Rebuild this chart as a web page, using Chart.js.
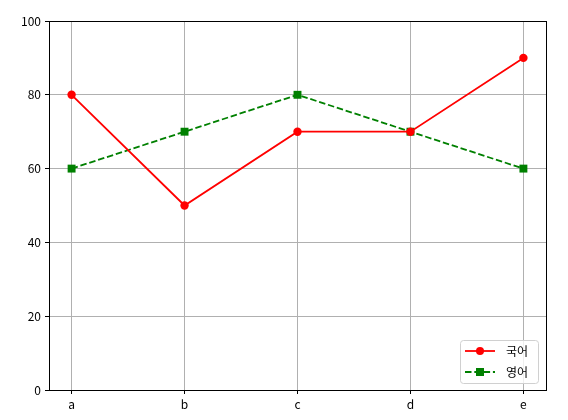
<!DOCTYPE html>
<html>
<head>
<meta charset="utf-8">
<script src="https://cdn.jsdelivr.net/npm/chart.js@4"></script>
<style>
  html, body { margin: 0; padding: 0; background: #fff; }
  #wrap { width: 568px; height: 420px; }
</style>
</head>
<body>
<div id="wrap"><canvas id="chart" width="568" height="420"></canvas></div>
<script>
const categories = ['a', 'b', 'c', 'd', 'e'];
const koreanScores = [80, 50, 70, 70, 90];
const englishScores = [60, 70, 80, 70, 60];
const seriesNames = ['국어', '영어'];
const yTicks = [0, 20, 40, 60, 80, 100];

const FONT = '"Noto Sans CJK KR", "Noto Sans", sans-serif';

// full black frame around plot area, like matplotlib spines
const framePlugin = {
    id: 'frame',
    afterDraw(chart) {
        const { ctx, chartArea: a } = chart;
        ctx.save();
        ctx.strokeStyle = '#000';
        ctx.lineWidth = 1;
        ctx.strokeRect(Math.round(a.left) + 0.5, Math.round(a.top) + 0.5,
            Math.round(a.right - a.left), Math.round(a.bottom - a.top));
        ctx.restore();
    }
};

// legend box in the lower right corner with line + marker samples
const legendPlugin = {
    id: 'mplLegend',
    afterDraw(chart) {
        const { ctx, chartArea: a } = chart;
        const w = 78, h = 43;
        const x = a.right - w - 8, y = a.bottom - h - 7;
        ctx.save();
        ctx.fillStyle = 'rgba(255,255,255,0.8)';
        ctx.strokeStyle = '#d0d0d0';
        ctx.lineWidth = 1;
        ctx.beginPath();
        ctx.roundRect(x + 0.5, y + 0.5, w, h, 3);
        ctx.fill();
        ctx.stroke();
        chart.data.datasets.forEach((ds, i) => {
            const cy = y + 11 + i * 21;
            ctx.strokeStyle = ds.borderColor;
            ctx.lineWidth = 1.8;
            ctx.setLineDash(ds.borderDash || []);
            ctx.beginPath();
            ctx.moveTo(x + 5, cy);
            ctx.lineTo(x + 35, cy);
            ctx.stroke();
            ctx.setLineDash([]);
            ctx.fillStyle = ds.pointBackgroundColor;
            if (ds.pointStyle === 'rect') {
                ctx.fillRect(x + 20 - 4, cy - 4, 8, 8);
            } else {
                ctx.beginPath();
                ctx.arc(x + 20, cy, 4, 0, Math.PI * 2);
                ctx.fill();
            }
            ctx.fillStyle = '#000';
            ctx.font = '12px ' + FONT;
            ctx.textBaseline = 'middle';
            ctx.fillText(ds.label, x + 46, cy);
        });
        ctx.restore();
    }
};

const toPoints = vals => vals.map((v, i) => ({ x: i, y: v }));

new Chart(document.getElementById('chart'), {
    type: 'line',
    data: {
        datasets: [
            {
                label: seriesNames[0],
                data: toPoints(koreanScores),
                borderColor: '#ff0000',
                pointBackgroundColor: '#ff0000',
                pointBorderColor: '#ff0000',
                borderWidth: 1.8,
                pointBorderWidth: 0,
                pointStyle: 'circle',
                pointRadius: 4.2,
                tension: 0
            },
            {
                label: seriesNames[1],
                data: toPoints(englishScores),
                borderColor: '#008000',
                pointBackgroundColor: '#008000',
                pointBorderColor: '#008000',
                borderWidth: 1.8,
                pointBorderWidth: 0,
                borderDash: [6.5, 2.8],
                pointStyle: 'rect',
                pointRadius: 5.6,
                tension: 0
            }
        ]
    },
    options: {
        responsive: false,
        animation: false,
        devicePixelRatio: 1,
        layout: { padding: { top: 21, right: 22, left: 0, bottom: 0 } },
        plugins: { legend: { display: false }, tooltip: { enabled: false } },
        scales: {
            x: {
                type: 'linear',
                min: -0.2,
                max: 4.2,
                afterBuildTicks(axis) { axis.ticks = categories.map((c, i) => ({ value: i })); },
                afterFit(axis) { axis.height = 30; },
                ticks: {
                    callback: v => categories[v],
                    color: '#000',
                    font: { family: FONT, size: 12 },
                    padding: 3,
                    maxRotation: 0
                },
                grid: { color: '#b0b0b0', lineWidth: 1, tickColor: '#000', tickLength: 4 },
                border: { display: false }
            },
            y: {
                min: 0,
                max: 100,
                afterBuildTicks(axis) { axis.ticks = yTicks.map(v => ({ value: v })); },
                afterFit(axis) { axis.width = 49; },
                ticks: {
                    color: '#000',
                    font: { family: FONT, size: 12 },
                    padding: 4
                },
                grid: { color: '#b0b0b0', lineWidth: 1, tickColor: '#000', tickLength: 4 },
                border: { display: false }
            }
        }
    },
    plugins: [framePlugin, legendPlugin]
});
</script>
</body>
</html>
